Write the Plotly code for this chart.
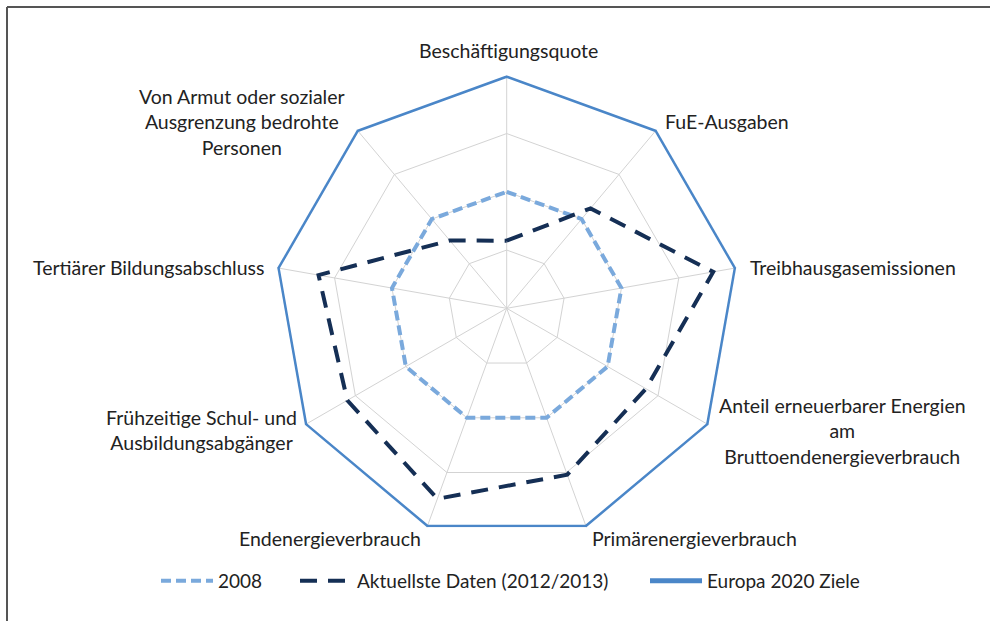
import plotly.graph_objects as go

categories = [
    "Beschäftigungsquote",
    "FuE-Ausgaben",
    "Treibhausgasemissionen",
    "Anteil erneuerbarer Energien<br>am<br>Bruttoendenergieverbrauch",
    "Primärenergieverbrauch",
    "Endenergieverbrauch",
    "Frühzeitige Schul- und<br>Ausbildungsabgänger",
    "Tertiärer Bildungsabschluss",
    "Von Armut oder sozialer<br>Ausgrenzung bedrohte<br>Personen",
]
series_names = ["2008", "Aktuellste Daten (2012/2013)", "Europa 2020 Ziele"]
values_2008 = [50, 50, 50, 50, 50, 50, 50, 50, 50]
values_aktuell = [29, 56, 90, 69, 76, 87, 79, 82, 38]
values_ziele = [100, 100, 100, 100, 100, 100, 100, 100, 100]

W, H = 990, 621
FONT = "Lato"
FS = 19.5


def px(x):
    return x / W


def py(y):
    return 1 - y / H


def closed(v):
    return list(v) + [v[0]]


fig = go.Figure()
fig.add_trace(go.Scatterpolar(
    r=closed(values_2008), theta=closed(categories), mode="lines",
    name=series_names[0], legend="legend",
    line=dict(color="#7AA9DC", width=4, dash="10px,5px"),
))
fig.add_trace(go.Scatterpolar(
    r=closed(values_aktuell), theta=closed(categories), mode="lines",
    name=series_names[1], legend="legend2",
    line=dict(color="#152F55", width=4, dash="17px,11px"),
))
fig.add_trace(go.Scatterpolar(
    r=closed(values_ziele), theta=closed(categories), mode="lines",
    name=series_names[2], legend="legend3",
    line=dict(color="#4A86C8", width=5),
))

cx0, cx1 = 273.7, 739.7
cy0, cy1 = 75.3, 541.3


def leg(xpix):
    return dict(orientation="h", x=px(xpix), y=py(581), xanchor="left",
                yanchor="middle",
                font=dict(family=FONT, size=19, color="#222222"),
                itemwidth=52, bgcolor="rgba(0,0,0,0)")


fig.update_layout(
    width=W, height=H,
    margin=dict(l=0, r=0, t=0, b=0),
    paper_bgcolor="white",
    font=dict(family=FONT, size=FS, color="#222222"),
    polar=dict(
        domain=dict(x=[px(cx0), px(cx1)], y=[py(cy1), py(cy0)]),
        bgcolor="white",
        gridshape="linear",
        radialaxis=dict(range=[0, 100], dtick=25, showticklabels=False,
                        ticks="", showline=False, gridcolor="#D3D3D3",
                        gridwidth=1),
        angularaxis=dict(direction="clockwise", rotation=90,
                         showticklabels=False, ticks="", showline=False,
                         gridcolor="#D3D3D3", gridwidth=1,
                         categoryorder="array", categoryarray=categories),
    ),
    showlegend=True,
    legend=leg(156),
    legend2=leg(295),
    legend3=leg(645),
)

label_pos = [
    (508, 50, "center"),
    (663, 122, "left"),
    (748, 268, "left"),
    (842, 431, "center"),
    (590, 538, "left"),
    (423, 538, "right"),
    (201, 430, "center"),
    (266, 267, "right"),
    (242, 122, "center"),
]
for cat, (x, y, anc) in zip(categories, label_pos):
    fig.add_annotation(x=px(x), y=py(y), xref="paper", yref="paper",
                       text=cat, showarrow=False, xanchor=anc,
                       yanchor="middle", align="center",
                       font=dict(family=FONT, size=FS, color="#222222"))

# frame (top and left edges)
fig.add_shape(type="line", xref="paper", yref="paper",
              x0=px(7), x1=1, y0=py(7), y1=py(7),
              line=dict(color="#555555", width=2))
fig.add_shape(type="line", xref="paper", yref="paper",
              x0=px(7), x1=px(7), y0=py(7), y1=0,
              line=dict(color="#555555", width=2))

fig.write_html(
    "out.html",
    config={"displayModeBar": False},
    post_script="document.body.style.margin='0';document.body.style.padding='0';",
)
